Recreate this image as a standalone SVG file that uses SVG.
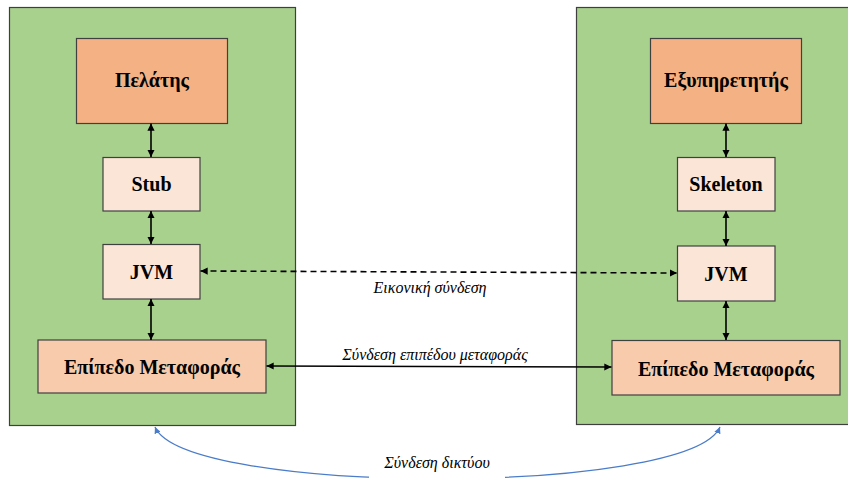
<svg xmlns="http://www.w3.org/2000/svg" width="848" height="482" viewBox="0 0 848 482">
<defs>
<marker id="ae" viewBox="0 0 10 10" refX="10" refY="5" markerWidth="4.5" markerHeight="4.5" orient="auto" markerUnits="strokeWidth"><path d="M0,0L10,5L0,10z" fill="#000"/></marker>
<marker id="as" viewBox="0 0 10 10" refX="0" refY="5" markerWidth="4.5" markerHeight="4.5" orient="auto" markerUnits="strokeWidth"><path d="M10,0L0,5L10,10z" fill="#000"/></marker>
<marker id="be" viewBox="0 0 10 10" refX="10" refY="5" markerWidth="5" markerHeight="5" orient="auto" markerUnits="strokeWidth"><path d="M0,0L10,5L0,10z" fill="#4A7CC9"/></marker>
<marker id="bs" viewBox="0 0 10 10" refX="0" refY="5" markerWidth="5" markerHeight="5" orient="auto" markerUnits="strokeWidth"><path d="M10,0L0,5L10,10z" fill="#4A7CC9"/></marker>
</defs>
<rect width="848" height="482" fill="#fff"/>
<g id="clientSide"><rect x="9.5" y="7.5" width="286" height="418" fill="#A9D18E" stroke="#3F3F3F" stroke-width="1.2"/></g>
<g id="serverSide"><rect x="576.5" y="7.5" width="280" height="417" fill="#A9D18E" stroke="#3F3F3F" stroke-width="1.2"/></g>
<g id="client"><rect x="76.5" y="38.5" width="151" height="85" fill="#F4B183" stroke="#404040" stroke-width="1.2"/><text x="152" y="87" font-family="Liberation Serif" font-size="20" font-weight="bold" text-anchor="middle">Πελάτης</text></g>
<g id="stub"><rect x="103" y="157.5" width="97" height="53.5" fill="#FBE5D6" stroke="#404040" stroke-width="1.2"/><text x="151.5" y="191" font-family="Liberation Serif" font-size="20" font-weight="bold" text-anchor="middle">Stub</text></g>
<g id="jvmLeft"><rect x="103" y="244.5" width="97" height="54.5" fill="#FBE5D6" stroke="#404040" stroke-width="1.2"/><text x="151.5" y="278.5" font-family="Liberation Serif" font-size="20" font-weight="bold" text-anchor="middle">JVM</text></g>
<g id="transportLeft"><rect x="38" y="340" width="228" height="53" fill="#F8CBAD" stroke="#404040" stroke-width="1.2"/><text x="152" y="374" font-family="Liberation Serif" font-size="20" font-weight="bold" text-anchor="middle">Επίπεδο Μεταφοράς</text></g>
<g id="server"><rect x="650.5" y="38.5" width="151" height="85" fill="#F4B183" stroke="#404040" stroke-width="1.2"/><text x="726" y="87" font-family="Liberation Serif" font-size="20" font-weight="bold" text-anchor="middle">Εξυπηρετητής</text></g>
<g id="skeleton"><rect x="677.5" y="157.5" width="97.5" height="53.5" fill="#FBE5D6" stroke="#404040" stroke-width="1.2"/><text x="726" y="191" font-family="Liberation Serif" font-size="20" font-weight="bold" text-anchor="middle">Skeleton</text></g>
<g id="jvmRight"><rect x="677.5" y="246" width="97.5" height="55" fill="#FBE5D6" stroke="#404040" stroke-width="1.2"/><text x="726" y="281" font-family="Liberation Serif" font-size="20" font-weight="bold" text-anchor="middle">JVM</text></g>
<g id="transportRight"><rect x="612" y="340.5" width="228" height="54.5" fill="#F8CBAD" stroke="#404040" stroke-width="1.2"/><text x="726" y="376" font-family="Liberation Serif" font-size="20" font-weight="bold" text-anchor="middle">Επίπεδο Μεταφοράς</text></g>
<g id="connectors">
<g stroke="#000" stroke-width="1.6" fill="none" marker-start="url(#as)" marker-end="url(#ae)">
<line x1="151" y1="123.5" x2="151" y2="157"/>
<line x1="151" y1="211" x2="151" y2="244"/>
<line x1="151" y1="299" x2="151" y2="340"/>
<line x1="726" y1="123.5" x2="726" y2="157"/>
<line x1="726" y1="211" x2="726" y2="246"/>
<line x1="726" y1="301" x2="726" y2="340"/>
<line x1="200.5" y1="271" x2="677" y2="273" stroke-dasharray="6,4"/>
<line x1="266.5" y1="366" x2="611.5" y2="367"/>
</g>
<path d="M155,427 C185,496 690,496 720,427" stroke="#4A7CC9" stroke-width="1.3" fill="none" marker-start="url(#bs)" marker-end="url(#be)"/>
<rect x="369" y="449" width="136" height="33" fill="#fff"/>
<text x="430" y="293" font-family="Liberation Serif" font-size="16" font-style="italic" text-anchor="middle">Εικονική σύνδεση</text>
<text x="435" y="360" font-family="Liberation Serif" font-size="16" font-style="italic" text-anchor="middle">Σύνδεση επιπέδου μεταφοράς</text>
<text x="437" y="468" font-family="Liberation Serif" font-size="16" font-style="italic" text-anchor="middle">Σύνδεση δικτύου</text>
</g>
</svg>
